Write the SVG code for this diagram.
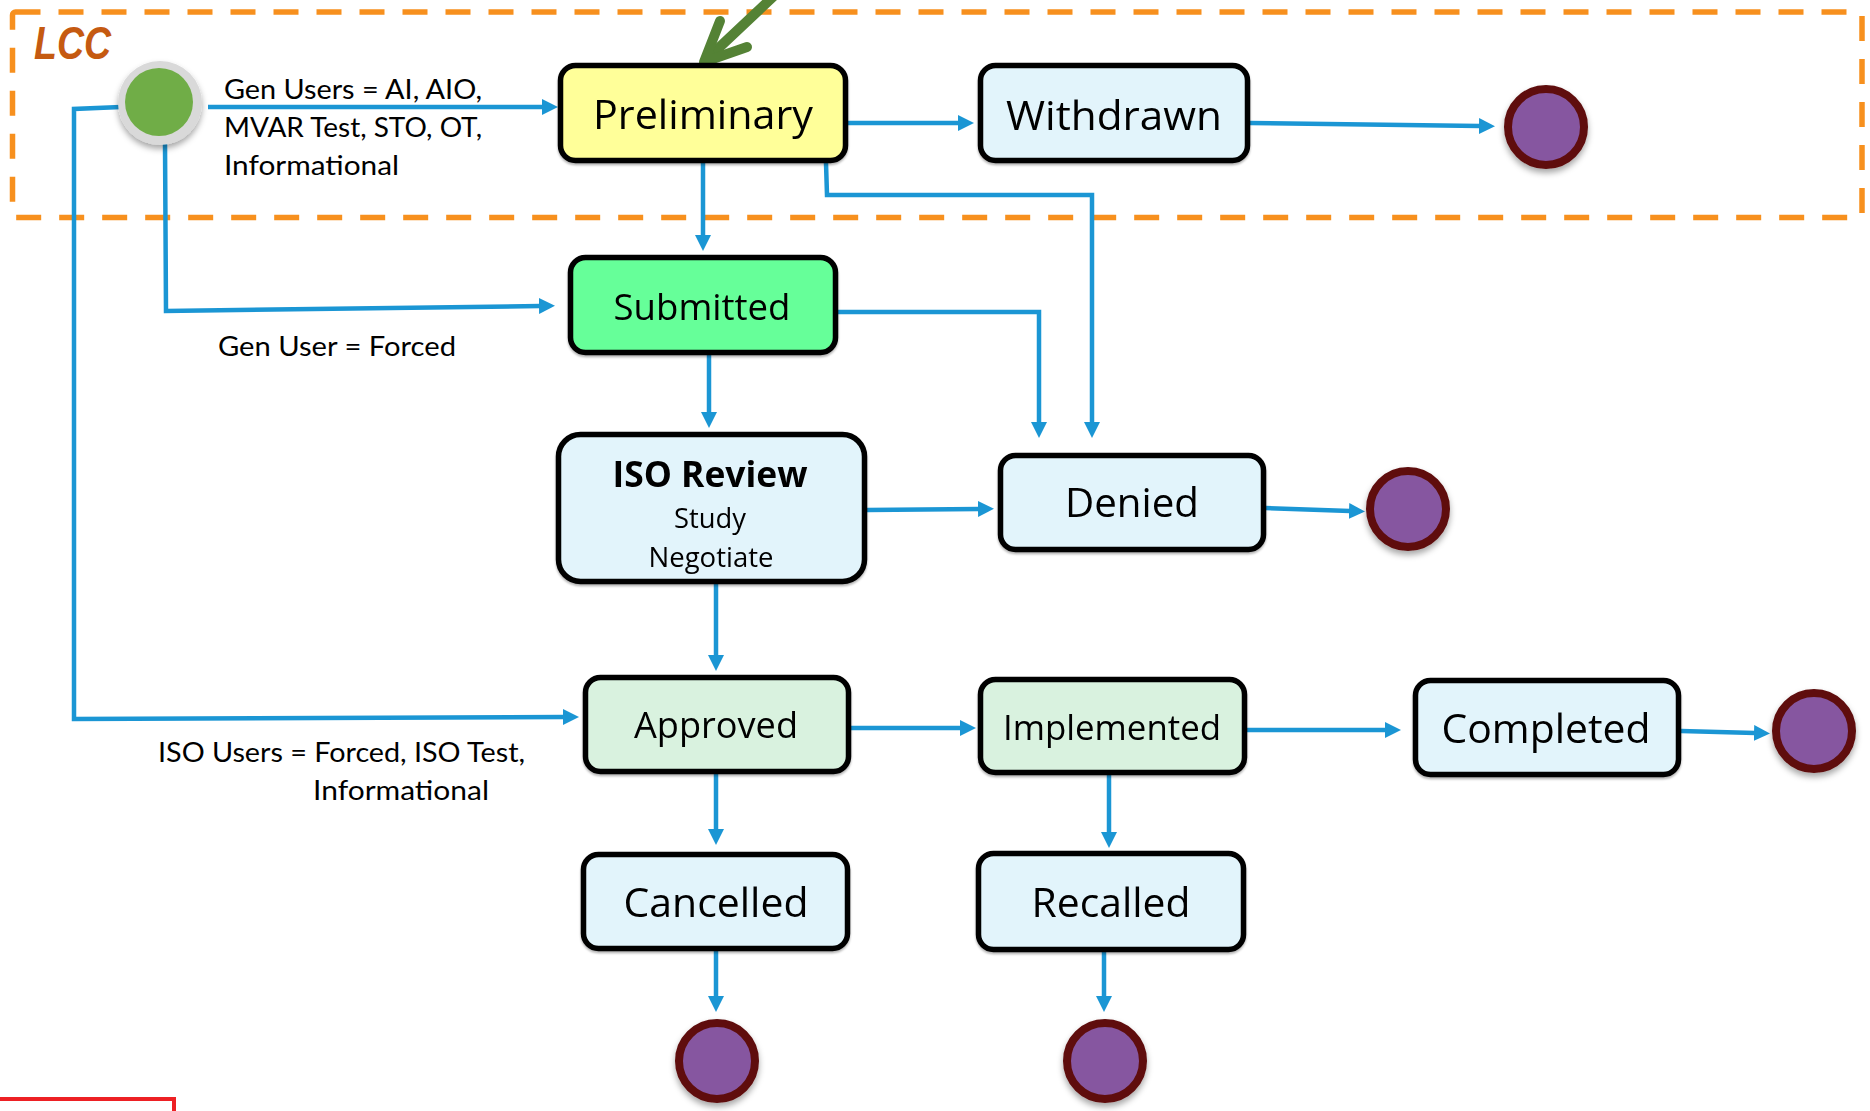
<svg xmlns="http://www.w3.org/2000/svg" width="1870" height="1111" viewBox="0 0 1870 1111">
  <style>
    .node rect { stroke: #000; stroke-width: 5.5; }
    .blue { fill: #E2F4FB; }
    .mint { fill: #D9F2DF; }
    .yellow { fill: #FFFF99; }
    .bright { fill: #66FF99; }
    .lbl { font-family: "Open Sans", "Noto Sans", sans-serif; fill: #000; text-anchor: middle; }
    .note { font-family: Lato, "Liberation Sans", sans-serif; font-size: 27px; fill: #000; }
    .conn { fill: none; stroke: #1B96D4; stroke-width: 4.5; stroke-linejoin: miter; }
    .final circle { fill: #8656A0; stroke: #5E0E0E; stroke-width: 8; }
  </style>
  <defs>
    <marker id="arrow" markerUnits="userSpaceOnUse" markerWidth="16" markerHeight="16" refX="1" refY="8" orient="auto">
      <path d="M0,0 L16,8 L0,16 z" fill="#1B96D4"/>
    </marker>
    <filter id="boxShadow" x="-10%" y="-10%" width="120%" height="130%">
      <feDropShadow dx="0" dy="2" stdDeviation="1.2" flood-color="#000" flood-opacity="0.3"/>
    </filter>
    <filter id="dotShadow" x="-30%" y="-30%" width="160%" height="170%">
      <feDropShadow dx="0" dy="4" stdDeviation="3" flood-color="#000" flood-opacity="0.35"/>
    </filter>
  </defs>

  <rect width="1870" height="1111" fill="#fff"/>

  <!-- LCC boundary -->
  <g id="lcc-frame">
    <rect x="12.5" y="12" width="1849.5" height="205.5" rx="3" fill="none" stroke="#F7901E" stroke-width="5.5" stroke-dasharray="25 18"/>
    <text x="34" y="59" font-family="'Liberation Sans', sans-serif" font-size="47" font-weight="bold" font-style="italic" fill="#C55A11" textLength="77" lengthAdjust="spacingAndGlyphs">LCC</text>
  </g>

  <!-- transitions -->
  <g id="connectors">
    <path class="conn" d="M208,107 L543,107" marker-end="url(#arrow)"/>
    <path class="conn" d="M121,107 L74,109 L74,719 L564,717" marker-end="url(#arrow)"/>
    <path class="conn" d="M165,143 L166,311 L540,306" marker-end="url(#arrow)"/>
    <path class="conn" d="M848,123 L959,123" marker-end="url(#arrow)"/>
    <path class="conn" d="M1250,123 L1480,126" marker-end="url(#arrow)"/>
    <path class="conn" d="M703,163 L703,236" marker-end="url(#arrow)"/>
    <path class="conn" d="M826,163 L827,195 L1092,195 L1092,423" marker-end="url(#arrow)"/>
    <path class="conn" d="M838,312 L1039,312 L1039,423" marker-end="url(#arrow)"/>
    <path class="conn" d="M709,355 L709,413" marker-end="url(#arrow)"/>
    <path class="conn" d="M867,510 L979,509" marker-end="url(#arrow)"/>
    <path class="conn" d="M1266,508 L1350,511" marker-end="url(#arrow)"/>
    <path class="conn" d="M716,584 L716,656" marker-end="url(#arrow)"/>
    <path class="conn" d="M851,728 L961,728" marker-end="url(#arrow)"/>
    <path class="conn" d="M1247,730 L1386,730" marker-end="url(#arrow)"/>
    <path class="conn" d="M1681,731 L1755,733" marker-end="url(#arrow)"/>
    <path class="conn" d="M1109,775 L1109,833" marker-end="url(#arrow)"/>
    <path class="conn" d="M1104,952 L1104,997" marker-end="url(#arrow)"/>
    <path class="conn" d="M716,774 L716,830" marker-end="url(#arrow)"/>
    <path class="conn" d="M716,951 L716,997" marker-end="url(#arrow)"/>
    <!-- entry pointer onto Preliminary -->
    <g fill="none" stroke="#548235" stroke-width="10" stroke-linecap="round" stroke-linejoin="round">
      <path d="M776,-6 L708,58"/>
      <path d="M720,21 L704,62 L747,47"/>
    </g>
  </g>

  <!-- transition guards -->
  <g id="guard-gen-users">
    <text class="note" x="224" y="99" textLength="258" lengthAdjust="spacingAndGlyphs">Gen Users = AI, AIO,</text>
    <text class="note" x="224" y="137" textLength="258" lengthAdjust="spacingAndGlyphs">MVAR Test, STO, OT,</text>
    <text class="note" x="224" y="175" textLength="175" lengthAdjust="spacingAndGlyphs">Informational</text>
  </g>
  <g id="guard-gen-forced">
    <text class="note" x="218" y="356" textLength="238" lengthAdjust="spacingAndGlyphs">Gen User = Forced</text>
  </g>
  <g id="guard-iso-users">
    <text class="note" x="158" y="762" textLength="367" lengthAdjust="spacingAndGlyphs">ISO Users = Forced, ISO Test,</text>
    <text class="note" x="313" y="800" textLength="176" lengthAdjust="spacingAndGlyphs">Informational</text>
  </g>

  <!-- initial state -->
  <g id="start" filter="url(#dotShadow)">
    <circle cx="160" cy="103" r="42" fill="#D9D9D9"/>
    <circle cx="159" cy="102" r="34" fill="#70AD47"/>
  </g>

  <!-- states -->
  <g id="preliminary" class="node" filter="url(#boxShadow)">
    <rect class="yellow" x="560.5" y="65.5" width="285" height="95" rx="15"/>
    <text class="lbl" x="703" y="129" font-size="41" textLength="220" lengthAdjust="spacingAndGlyphs">Preliminary</text>
  </g>
  <g id="withdrawn" class="node" filter="url(#boxShadow)">
    <rect class="blue" x="980.5" y="65.5" width="267" height="95" rx="15"/>
    <text class="lbl" x="1114" y="130" font-size="41" textLength="216" lengthAdjust="spacingAndGlyphs">Withdrawn</text>
  </g>
  <g id="submitted" class="node" filter="url(#boxShadow)">
    <rect class="bright" x="570.5" y="257.5" width="265" height="95" rx="15"/>
    <text class="lbl" x="702" y="320" font-size="37" textLength="177" lengthAdjust="spacingAndGlyphs">Submitted</text>
  </g>
  <g id="iso-review" class="node" filter="url(#boxShadow)">
    <rect class="blue" x="558.5" y="434.5" width="306" height="147" rx="22"/>
    <text class="lbl" x="710" y="487" font-size="35" font-weight="bold" textLength="195" lengthAdjust="spacingAndGlyphs">ISO Review</text>
    <text class="lbl" x="710" y="528" font-size="27.5" textLength="72" lengthAdjust="spacingAndGlyphs">Study</text>
    <text class="lbl" x="711" y="567" font-size="27.5" textLength="125" lengthAdjust="spacingAndGlyphs">Negotiate</text>
  </g>
  <g id="denied" class="node" filter="url(#boxShadow)">
    <rect class="blue" x="1000.5" y="455.5" width="263" height="94" rx="15"/>
    <text class="lbl" x="1132" y="517" font-size="41" textLength="134" lengthAdjust="spacingAndGlyphs">Denied</text>
  </g>
  <g id="approved" class="node" filter="url(#boxShadow)">
    <rect class="mint" x="585.5" y="677.5" width="263" height="94" rx="15"/>
    <text class="lbl" x="716" y="738" font-size="36" textLength="164" lengthAdjust="spacingAndGlyphs">Approved</text>
  </g>
  <g id="implemented" class="node" filter="url(#boxShadow)">
    <rect class="mint" x="980.5" y="679.5" width="264" height="93" rx="15"/>
    <text class="lbl" x="1112" y="740" font-size="35" textLength="218" lengthAdjust="spacingAndGlyphs">Implemented</text>
  </g>
  <g id="completed" class="node" filter="url(#boxShadow)">
    <rect class="blue" x="1415.5" y="680.5" width="263" height="94" rx="15"/>
    <text class="lbl" x="1546" y="743" font-size="41" textLength="209" lengthAdjust="spacingAndGlyphs">Completed</text>
  </g>
  <g id="cancelled" class="node" filter="url(#boxShadow)">
    <rect class="blue" x="583.5" y="854.5" width="264" height="94" rx="15"/>
    <text class="lbl" x="716" y="917" font-size="41" textLength="185" lengthAdjust="spacingAndGlyphs">Cancelled</text>
  </g>
  <g id="recalled" class="node" filter="url(#boxShadow)">
    <rect class="blue" x="978.5" y="853.5" width="265" height="96" rx="15"/>
    <text class="lbl" x="1111" y="917" font-size="41" textLength="159" lengthAdjust="spacingAndGlyphs">Recalled</text>
  </g>

  <!-- final states -->
  <g id="end-withdrawn" class="final" filter="url(#dotShadow)"><circle cx="1546" cy="127" r="38"/></g>
  <g id="end-denied" class="final" filter="url(#dotShadow)"><circle cx="1408" cy="509" r="38"/></g>
  <g id="end-completed" class="final" filter="url(#dotShadow)"><circle cx="1814" cy="731" r="38"/></g>
  <g id="end-cancelled" class="final" filter="url(#dotShadow)"><circle cx="717" cy="1061" r="38"/></g>
  <g id="end-recalled" class="final" filter="url(#dotShadow)"><circle cx="1105" cy="1061" r="38"/></g>

  <!-- red outline at lower left -->
  <path d="M0,1099 L174,1099 L174,1111" fill="none" stroke="#ED2024" stroke-width="4"/>
</svg>
